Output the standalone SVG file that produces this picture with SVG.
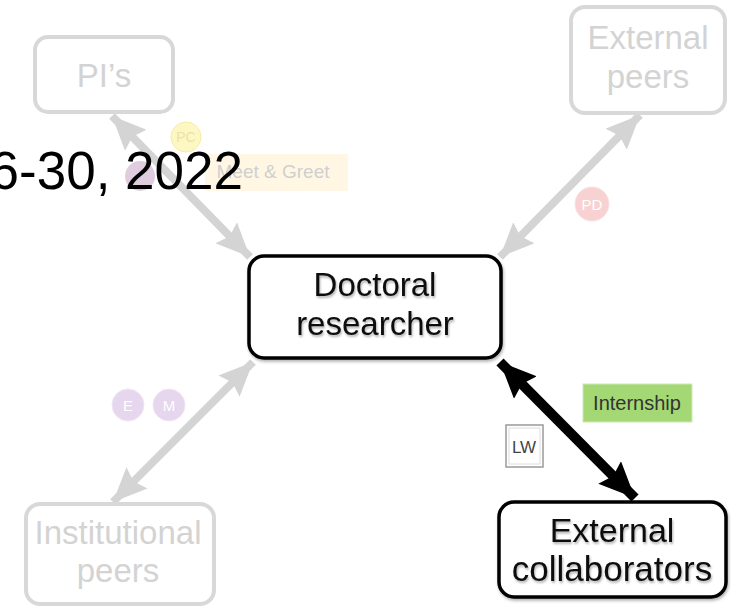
<svg xmlns="http://www.w3.org/2000/svg" width="731" height="607" viewBox="0 0 731 607">
<style>
  .ghost rect { fill: #ffffff; stroke: #d8d8d8; stroke-width: 4; }
  .ghost text { fill: #d3d3d3; }
  .main rect { fill: #ffffff; stroke: #000000; stroke-width: 3.5; filter: url(#sh); }
  .main text { fill: #111111; filter: url(#tsh); }
  text { font-family: "Liberation Sans", Arial, Helvetica, sans-serif; text-anchor: middle; }
  .node { font-size: 33px; }
  .badge { font-size: 15px; fill: #ffffff; }
</style>
<defs>
  <filter id="sh" x="-10%" y="-10%" width="130%" height="140%">
    <feDropShadow dx="1" dy="2" stdDeviation="1.5" flood-color="#000" flood-opacity="0.3"/>
  </filter>
  <filter id="tsh" x="-10%" y="-20%" width="130%" height="160%">
    <feDropShadow dx="1" dy="2" stdDeviation="1" flood-color="#000" flood-opacity="0.3"/>
  </filter>
  <marker id="ahG" viewBox="0 0 34 30" refX="34" refY="15" markerWidth="34" markerHeight="30" markerUnits="userSpaceOnUse" orient="auto-start-reverse">
    <path d="M0,0 L34,15 L0,30 L5,15 z" fill="#d4d4d4"/>
  </marker>
  <marker id="ahB" viewBox="0 0 36 32" refX="36" refY="16" markerWidth="36" markerHeight="32" markerUnits="userSpaceOnUse" orient="auto-start-reverse">
    <path d="M0,0 L36,16 L0,32 L5,16 z" fill="#000000"/>
  </marker>
</defs>

<g id="connectors">
  <line x1="112" y1="116" x2="250" y2="257" stroke="#d4d4d4" stroke-width="8" marker-start="url(#ahG)" marker-end="url(#ahG)"/>
  <line x1="640" y1="115" x2="500" y2="257" stroke="#d4d4d4" stroke-width="8" marker-start="url(#ahG)" marker-end="url(#ahG)"/>
  <line x1="253" y1="362" x2="113" y2="502" stroke="#d4d4d4" stroke-width="8" marker-start="url(#ahG)" marker-end="url(#ahG)"/>
  <line x1="500" y1="362" x2="635" y2="498" stroke="#000000" stroke-width="10" marker-start="url(#ahB)" marker-end="url(#ahB)"/>
</g>

<g id="purple-badge">
  <circle cx="140" cy="176" r="15" fill="#dcc8dc" opacity="0.9"/>
</g>

<g id="pc-badge">
  <circle cx="186" cy="137" r="15" fill="#fdf7c4" stroke="#f6eda0" stroke-width="1"/>
  <text x="186" y="142" style="font-size:14px;fill:#ece2a4">PC</text>
</g>

<g id="meet-greet">
  <rect x="205" y="154" width="143" height="37" fill="#fff7e4"/>
  <text x="273" y="178" style="font-size:19px;fill:#cfcfcf">Meet &amp; Greet</text>
</g>

<!-- title fragment, drawn on top -->
<text x="243" y="189" style="font-size:53px;text-anchor:end;fill:#000">6-30, 2022</text>

<g id="pd-badge">
  <circle cx="592" cy="204" r="17" fill="#f8d2d2" stroke="#fbe3e3" stroke-width="1"/>
  <text class="badge" x="592" y="210">PD</text>
</g>

<g id="e-badge">
  <circle cx="128" cy="405" r="16" fill="#e6d6ee" stroke="#efe6f4" stroke-width="1"/>
  <text class="badge" x="128" y="411">E</text>
</g>
<g id="m-badge">
  <circle cx="169" cy="405" r="16" fill="#e6d6ee" stroke="#efe6f4" stroke-width="1"/>
  <text class="badge" x="169" y="411">M</text>
</g>

<g id="internship">
  <rect x="583" y="384" width="109" height="38" fill="#a4d874" stroke="#cfe8b8" stroke-width="1"/>
  <text x="637" y="410" style="font-size:20px;fill:#333">Internship</text>
</g>

<g id="lw">
  <rect x="506" y="425" width="37" height="42" fill="#ffffff" stroke="#9a9a9a" stroke-width="1.5"/>
  <rect x="509" y="428" width="31" height="36" fill="none" stroke="#dddddd" stroke-width="1"/>
  <text x="524" y="453" style="font-size:17px;fill:#444">LW</text>
</g>

<g id="pis" class="ghost">
  <rect x="35" y="37" width="138" height="75" rx="13"/>
  <text class="node" x="104" y="87">PI’s</text>
</g>

<g id="external-peers" class="ghost">
  <rect x="571" y="7" width="154" height="106" rx="14"/>
  <text class="node" x="648" y="49">External</text>
  <text class="node" x="648" y="88">peers</text>
</g>

<g id="institutional-peers" class="ghost">
  <rect x="26" y="504" width="188" height="100" rx="14"/>
  <text class="node" x="118" y="544">Institutional</text>
  <text class="node" x="118" y="582">peers</text>
</g>

<g id="doctoral-researcher" class="main">
  <rect x="249" y="256" width="252" height="102" rx="15"/>
  <text class="node" x="375" y="296">Doctoral</text>
  <text class="node" x="375" y="335">researcher</text>
</g>

<g id="external-collaborators" class="main">
  <rect x="499" y="502" width="227" height="95" rx="15"/>
  <text class="node" x="612" y="542" style="font-size:34px">External</text>
  <text class="node" x="612" y="581" style="font-size:35px">collaborators</text>
</g>
</svg>
